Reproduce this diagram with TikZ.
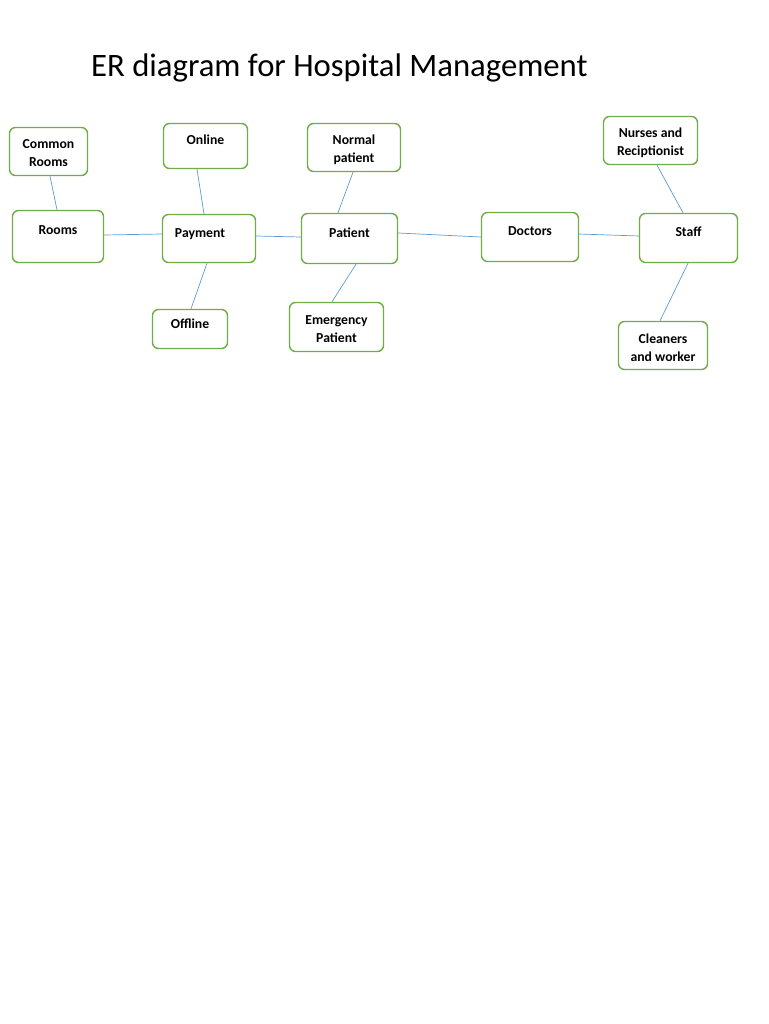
\documentclass[tikz,border=0pt]{standalone}
\usepackage{fontspec}
\setmainfont{Carlito}
\definecolor{boxgreen}{RGB}{112,173,71}
\definecolor{linkblue}{RGB}{91,155,213}
\begin{document}
\begin{tikzpicture}[x=1pt,y=-1pt,
  ent/.style={draw=boxgreen, line width=1.4pt, rounded corners=6pt, fill=white,
    font=\fontsize{13.7}{18}\selectfont\bfseries, align=center, inner sep=2pt},
  twol/.style={ent, text height=34pt, text depth=3pt},
  onel/.style={ent, text height=8pt, text depth=11pt},
  link/.style={draw=linkblue, line width=0.7pt}]
\useasboundingbox (0,0) rectangle (768,1024);
\node[anchor=base west, inner sep=0pt, font=\fontsize{32.7}{38}\selectfont] (title) at (91,77) {ER diagram for Hospital Management};

\node[twol, minimum width=78pt, minimum height=48pt] (crooms) at (48.5,151.5) {Common\\Rooms};
\node[onel, minimum width=84pt, minimum height=45pt] (online) at (205.5,146) {Online};
\node[twol, minimum width=93pt, minimum height=48pt] (normal) at (354,147.5) {Normal\\patient};
\node[onel, minimum width=91pt, minimum height=52pt] (rooms) at (58,236.5) {Rooms};
\node[onel, minimum width=93pt, minimum height=48pt] (payment) at (209,238.5) {Payment\hspace*{18pt}};
\node[onel, minimum width=96pt, minimum height=50pt] (patient) at (349.5,238.5) {Patient};
\node[onel, minimum width=75pt, minimum height=39pt, text depth=9pt] (offline) at (190,329) {Offline};
\node[twol, minimum width=94pt, minimum height=49pt] (emergency) at (336.5,327) {Emergency\\Patient};
\node[twol, minimum width=94pt, minimum height=48pt] (nurses) at (650.5,140.5) {Nurses and\\Reciptionist};
\node[onel, minimum width=97pt, minimum height=49pt] (doctors) at (530,237) {Doctors};
\node[onel, minimum width=98pt, minimum height=49pt] (staff) at (688.5,238) {Staff};
\node[twol, minimum width=89pt, minimum height=48pt] (cleaners) at (663,345.5) {Cleaners\\and worker};

\draw[link] (50,0 |- crooms.south) -- (57,0 |- rooms.north);
\draw[link] (197,0 |- online.south) -- (204,0 |- payment.north);
\draw[link] (353,0 |- normal.south) -- (338,0 |- patient.north);
\draw[link] (rooms.east |- 0,235) -- (payment.west |- 0,234);
\draw[link] (payment.east |- 0,236) -- (patient.west |- 0,237);
\draw[link] (207,0 |- payment.south) -- (191,0 |- offline.north);
\draw[link] (356,0 |- patient.south) -- (332,0 |- emergency.north);
\draw[link] (patient.east |- 0,233) -- (doctors.west |- 0,237);
\draw[link] (doctors.east |- 0,234) -- (staff.west |- 0,236);
\draw[link] (657,0 |- nurses.south) -- (683,0 |- staff.north);
\draw[link] (688,0 |- staff.south) -- (660,0 |- cleaners.north);
\end{tikzpicture}
\end{document}
